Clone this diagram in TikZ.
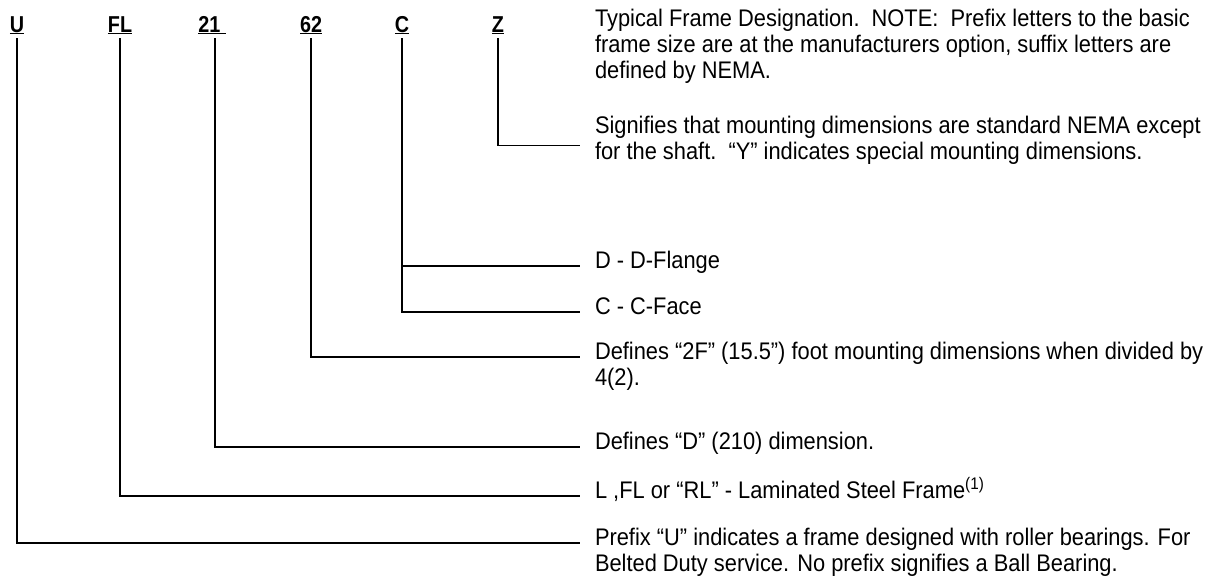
\documentclass[tikz,border=0pt]{standalone}
\usepackage{fontspec}
\setmainfont[FakeStretch=0.91]{Liberation Sans}
\newfontfamily\letrafont[FakeStretch=0.86]{Liberation Sans}
\usetikzlibrary{positioning,calc}
\tikzset{
  letra/.style={font=\fontsize{23}{26}\selectfont\letrafont\bfseries,
    anchor=base, inner xsep=0pt, inner ysep=4pt},
  nota/.style={align=left, font=\fontsize{24}{26}\selectfont,
    inner sep=0pt, outer xsep=15pt, anchor=mid west},
  guia/.style={line width=1.4pt}
}

\begin{document}
\begin{tikzpicture}[x=1pt,y=-1pt]
\useasboundingbox (0,0) rectangle (1214,582);

% letras de la designacion
\node[letra] (u)   at (17,32)  {\underline{U}};
\node[letra] (fl)  at (120,32) {\underline{FL}};
\node[letra] (d21) at (212,32) {\underline{21\ }};
\node[letra] (d62) at (311,32) {\underline{62}};
\node[letra] (c)   at (402,32) {\underline{C}};
\node[letra] (z)   at (498,32) {\underline{Z}};

% textos (anclados en la ultima linea)
\node[nota] (tnota) at (580,76) {
  Typical Frame Designation.\ \ NOTE:\ \ Prefix letters to the basic\\
  frame size are at the manufacturers option, suffix letters are\\
  defined by NEMA.};
\node[nota] (tz) at (580,157) {
  Signifies that mounting dimensions are standard NEMA except\\
  for the shaft.\ \ “Y” indicates special mounting dimensions.};
\node[nota] (tdf) at (580,266) {D - D-Flange};
\node[nota] (tcf) at (580,312) {C - C-Face};
\node[nota] (t62) at (580,383) {
  Defines “2F” (15.5”) foot mounting dimensions when divided by\\
  4(2).};
\node[nota] (t21) at (580,447) {Defines “D” (210) dimension.};
\node[nota] (tfl) at (580,496) {
  L ,FL or “RL” - Laminated Steel Frame\textsuperscript{(1)}};
\node[nota] (tu) at (580,569) {
  Prefix “U” indicates a frame designed with roller bearings. For\\
  Belted Duty service. No prefix signifies a Ball Bearing.};

% Z -- montaje
\draw[guia] (z.south) |- ([yshift=-5pt]tz.west);

% C -- brida / cara
\draw[guia] (c.south) |- (tcf.mid west);
\draw[guia] (c.south |- tdf.mid west) -- (tdf.mid west);

% 62 -- 2F
\draw[guia] (d62.south) |- ([yshift=26pt]t62.mid west);

% 21 -- D
\draw[guia] ([xshift=3pt]d21.south) |- (t21.mid west);

% FL -- bastidor laminado
\draw[guia] (fl.south) |- (tfl.mid west);

% U -- rodamientos
\draw[guia] (u.south) |- ([yshift=26pt]tu.mid west);

\end{tikzpicture}
\end{document}
